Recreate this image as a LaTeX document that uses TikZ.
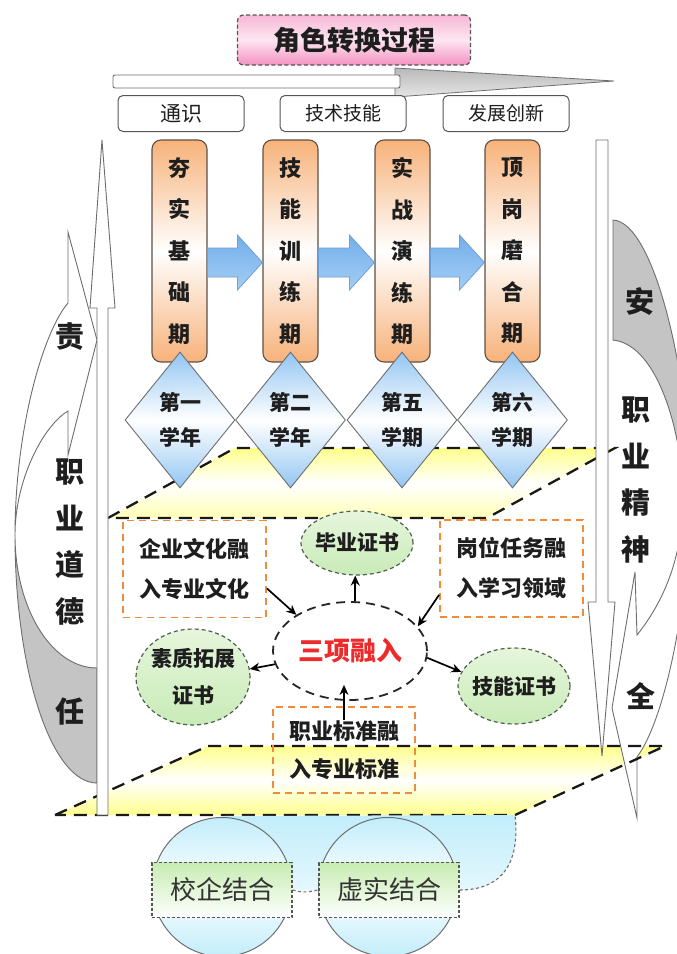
\documentclass[tikz,border=0pt]{standalone}
\usepackage{fontspec}
\setmainfont{Noto Sans CJK SC}
\usetikzlibrary{shapes.geometric,arrows.meta,calc}
\definecolor{orgC}{HTML}{F7B27A}
\definecolor{orgE}{HTML}{5E5048}
\definecolor{blueA}{HTML}{74AEEA}
\definecolor{blueB}{HTML}{A3CEF4}
\definecolor{blueE}{HTML}{6E9FD6}
\definecolor{diaC}{HTML}{92C5F2}
\definecolor{yelC}{HTML}{FFFF8C}
\definecolor{yelD}{HTML}{FFFFB8}
\definecolor{grnA}{HTML}{E6F6DC}
\definecolor{grnB}{HTML}{C9EBB8}
\definecolor{grnE}{HTML}{4F5F4F}
\definecolor{cyanA}{HTML}{C2EDFB}
\definecolor{cyanB}{HTML}{E4F7FD}
\definecolor{pinkA}{HTML}{F7B7D6}
\definecolor{pinkB}{HTML}{F391C0}
\definecolor{pinkM}{HTML}{FDE6F1}
\definecolor{dashO}{HTML}{F08A3C}
\definecolor{lineG}{HTML}{6E6E6E}
\definecolor{grayF}{HTML}{C4C4C4}
\definecolor{boxE}{HTML}{555555}
\definecolor{txt}{HTML}{1E1E1E}
\definecolor{redT}{HTML}{EE2B2B}
\definecolor{gboxA}{HTML}{C7ECB2}
\definecolor{gboxT}{HTML}{333333}
\begin{document}
\begin{tikzpicture}[x=1pt,y=-1pt,
  phase/.style={draw=orgE, line width=1.1pt, rounded corners=9pt, minimum width=55pt, minimum height=222pt, inner sep=0pt, top color=orgC, bottom color=orgC, middle color=white, align=center, font=\fontsize{22}{41.5}\selectfont\bfseries, text=txt},
  dia/.style={diamond, draw=lineG, line width=0.9pt, minimum width=110pt, minimum height=136pt, inner sep=0pt, top color=diaC, bottom color=diaC, middle color=white, align=center, font=\fontsize{21}{35}\selectfont\bfseries, text=txt},
  lbl/.style={draw=boxE, line width=1pt, rounded corners=5pt, fill=white, minimum width=126pt, minimum height=36pt, inner sep=0pt, font=\fontsize{19}{22}\selectfont, text=txt},
  obox/.style={draw=dashO, dash pattern=on 7pt off 5pt, line width=1.8pt, minimum width=143pt, minimum height=97pt, align=center, inner sep=0pt, font=\fontsize{22}{40}\selectfont\bfseries, text=txt},
  gell/.style={ellipse, draw=grnE, dash pattern=on 4pt off 3pt, line width=1.2pt, top color=grnA, bottom color=grnB, inner sep=-3pt, align=center, font=\fontsize{21}{37}\selectfont\bfseries, text=txt},
  cell/.style={ellipse, draw=black!85, dash pattern=on 9pt off 6pt, line width=1.8pt, minimum width=154pt, minimum height=98pt, inner sep=0pt, font=\fontsize{26}{30}\selectfont\bfseries, text=redT},
  arr/.style={-{Stealth[length=10pt,width=9pt]}, line width=1.7pt, black},
  side/.style={font=\fontsize{29}{46.5}\selectfont\bfseries, align=center, inner sep=0pt, text=txt},
  circ/.style={circle, draw=lineG, line width=1pt, top color=cyanA, bottom color=cyanA, middle color=white, minimum size=139pt, inner sep=0pt},
  gbox/.style={draw=boxE, dash pattern=on 3pt off 2pt, line width=1.3pt, top color=gboxA, bottom color=white, minimum width=140pt, minimum height=55pt, inner sep=0pt, font=\fontsize{26}{30}\selectfont, text=gboxT},
  pdash/.style={draw=black!90, line width=2.3pt, dash pattern=on 13pt off 8pt},
  gdash/.style={draw=lineG, line width=1.1pt, dash pattern=on 3pt off 2.5pt},
  crest/.style={draw=lineG, line width=0.9pt},
  titlebox/.style={draw=boxE, dash pattern=on 4pt off 2.5pt, line width=1.2pt, rounded corners=6pt, top color=pinkA, bottom color=pinkB, middle color=pinkM, minimum width=233pt, minimum height=50pt, inner sep=0pt, font=\fontsize{27}{30}\selectfont\bfseries, text=txt}
]
\fill[white] (0,0) rectangle (677,954);
\useasboundingbox (0,0) rectangle (677,954);

% parallelogram fills
\path[top color=yelC, bottom color=yelD, middle color=white] (108,518) -- (235,448) -- (615,448) -- (487,518) -- cycle;
\path[top color=yelC, bottom color=yelC, middle color=white] (55,815) -- (208,746) -- (665,746) -- (515,815) -- cycle;

% left crescent
\path[crest, fill=grayF] (97,783) .. controls (51.7,783) and (15,672) .. (15,535) .. controls (15,608.5) and (51.7,668) .. (97,668) -- cycle;
\path[crest, fill=white] (15,535) .. controls (15,430) and (43,332) .. (68,303) -- (68,232) -- (97,340) -- (68,455) -- (68,411) .. controls (43,426) and (15,480) .. (15,535) -- cycle;

% right crescent
\path[crest, fill=grayF] (613,220) .. controls (655,222) and (690,380) .. (690,490) -- (683,497) .. controls (683,440) and (660,345) .. (613,340) -- cycle;
\path[crest, fill=white] (690,490) .. controls (690,600) and (665,720) .. (637,757) -- (637,818) -- (612,708) -- (635,572) -- (637,635) .. controls (665,600) and (683,555) .. (683,497) -- cycle;

% parallelogram borders
\path[pdash] (108,518) -- (235,448) -- (615,448) -- (487,518) -- cycle;
\path[pdash] (55,815) -- (208,746) -- (665,746) -- (515,815) -- cycle;

% vertical shafts
\path[crest, fill=white] (97,815) -- (97,308) -- (90,308) -- (102,140) -- (115,308) -- (108,308) -- (108,815) -- cycle;
\path[crest, fill=white] (596,140) -- (608,140) -- (608,602) -- (615,602) -- (602,756) -- (588,602) -- (596,602) -- cycle;

% bottom circles
\coordinate (pb) at (515,815);
\coordinate (r1e) at (292,890);
\coordinate (r2e) at (460,890);
\path[top color=cyanA, bottom color=cyanB] (222,816) -- (pb) .. controls +(5,45) and +(45,0) .. (r2e) -- (r1e) -- cycle;
\node[circ] (k1) at (222,887) {};
\node[circ] (k2) at (388,887) {};
\node[gbox] (r1) at (222,890) {校企结合};
\node[gbox] (r2) at (389,890) {虚实结合};
\draw[gdash] (r1.east) .. controls +(10,3) and +(-10,2) .. (r2.west);
\draw[gdash] (r2.east) .. controls +(45,0) and +(5,45) .. (pb);

% title and big arrow
\node[titlebox] (title) at (354,40) {角色转换过程};
\path[draw=lineG, line width=0.8pt, top color=gray!55, bottom color=gray!20] (395,68) -- (614,81) -- (395,97) -- cycle;
\path[draw=lineG, line width=0.9pt, fill=white, rounded corners=2pt] (113,75) rectangle (400,88);

% labels
\node[lbl, font=\fontsize{21}{24}\selectfont] (l1) at (181,113.5) {通识};
\node[lbl] (l2) at (343,113.5) {技术技能};
\node[lbl] (l3) at (506,113.5) {发展创新};

% phase boxes
\node[phase] (p1) at (179.5,251) {夯\\实\\基\\础\\期};
\node[phase] (p2) at (290.5,251) {技\\能\\训\\练\\期};
\node[phase] (p3) at (402.5,251) {实\\战\\演\\练\\期};
\node[phase] (p4) at (512.5,251) {顶\\岗\\磨\\合\\期};
\foreach \a/\b in {p1/p2,p2/p3,p3/p4} {
  \path[top color=blueA, bottom color=blueB, draw=blueE, line width=0.8pt]
    ($(\a.east)+(0,-3)$) -- ($(\b.west)+(-25,-3)$) -- ($(\b.west)+(-25,-16)$) -- ($(\b.west)+(0,11.5)$) -- ($(\b.west)+(-25,39)$) -- ($(\b.west)+(-25,26)$) -- ($(\a.east)+(0,26)$) -- cycle;
}

% diamonds
\node[dia] (d1) at (180,420) {第一\\学年};
\node[dia] (d2) at (290.5,420) {第二\\学年};
\node[dia] (d3) at (402,420) {第五\\学期};
\node[dia] (d4) at (512.5,420) {第六\\学期};

% middle part
\node[obox] (o1) at (194.5,569) {企业文化融\\入专业文化};
\node[obox] (o2) at (511.5,568.5) {岗位任务融\\入学习领域};
\node[obox, minimum width=142pt, minimum height=86pt, font=\fontsize{22}{38}\selectfont\bfseries] (o3) at (344,750) {职业标准融\\入专业标准};
\node[gell, minimum width=112pt, minimum height=64pt] (g1) at (357,543) {毕业证书};
\node[gell, minimum width=114pt, minimum height=96pt] (g2) at (193,677) {素质拓展\\证书};
\node[gell, minimum width=112pt, minimum height=76pt] (g3) at (514,686) {技能证书};
\node[cell] (c) at (350,651) {三项融入};

\draw[arr] (o1.-15) -- (c.146);
\draw[arr] (o2.200) -- (c.20);
\draw[arr] (c.84) -- (c.84 |- g1.south);
\draw[arr] (c.190) -- (g2.8);
\draw[arr] (c.-5) -- (g3.165);
\draw[arr, shorten <=-14pt, shorten >=-16pt] (o3.north) -- (o3.north |- c.south);

% side words
\node[side] (zr) at (70,337) {责};
\node[side] (zd) at (70,542) {职\\业\\道\\德};
\node[side] (zrn) at (70,712) {任};
\node[side] (za) at (640,302) {安};
\node[side] (zj) at (636,480) {职\\业\\精\\神};
\node[side] (zq) at (641,696) {全};
\end{tikzpicture}
\end{document}
